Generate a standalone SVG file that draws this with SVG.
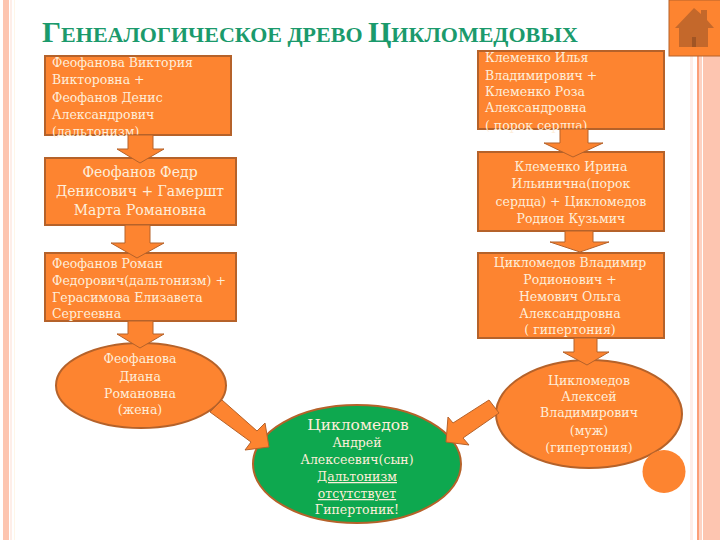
<svg xmlns="http://www.w3.org/2000/svg" width="720" height="540" viewBox="0 0 720 540">
<defs><style>
.sh{fill:#fd8430;stroke:#b5622a;stroke-width:2}
.ar{fill:#fd8430;stroke:#b5622a;stroke-width:1}
text{font-family:"DejaVu Serif","Liberation Serif",serif;fill:#feeeda;font-size:12.5px}
.c{text-anchor:middle}
.b{font-size:14px}
.t{font-family:"Liberation Serif",serif;font-size:22px;fill:#1b9a6c;font-weight:bold}
.u{text-decoration:underline}
</style></defs>
<rect width="720" height="540" fill="#fff"/>
<rect x="3" y="0" width="6" height="540" fill="#fdc5b0"/>
<rect x="10" y="0" width="2" height="540" fill="#feeee8"/>
<rect x="14" y="0" width="1" height="540" fill="#fff6e8"/>
<rect x="690" y="0" width="3" height="540" fill="#feeee8"/>
<rect x="697" y="0" width="2" height="540" fill="#fb9f78"/>
<rect x="699" y="0" width="3" height="540" fill="#fdd2c2"/>
<rect x="703" y="0" width="17" height="540" fill="#fdc5b0"/>
<g id="n1"><rect class="sh" x="45" y="56" width="186" height="79"/><text x="52" y="67">Феофанова Виктория</text><text x="52" y="84">Викторовна  +</text><text x="52" y="102">Феофанов Денис</text><text x="52" y="119">Александрович</text><text x="52" y="136">(дальтонизм)</text></g>
<g id="n2"><rect class="sh" x="45" y="158" width="191" height="67"/><text class="c b" x="140" y="177">Феофанов Федр</text><text class="c b" x="140" y="196">Денисович + Гамершт</text><text class="c b" x="140" y="215">Марта Романовна</text></g>
<g id="n3"><rect class="sh" x="45" y="253" width="191" height="68"/><text x="52" y="268">Феофанов Роман</text><text x="52" y="285">Федорович(дальтонизм) +</text><text x="52" y="302">Герасимова Елизавета</text><text x="52" y="318">Сергеевна</text></g>
<g id="n4"><ellipse class="sh" cx="141" cy="385.5" rx="85" ry="42.5"/><text class="c" x="140" y="363">Феофанова</text><text class="c" x="140" y="381">Диана</text><text class="c" x="140" y="398">Романовна</text><text class="c" x="140" y="414">(жена)</text></g>
<g id="n5"><rect class="sh" x="478" y="51" width="186" height="78"/><text x="485" y="62">Клеменко Илья</text><text x="485" y="80">Владимирович +</text><text x="485" y="96">Клеменко Роза</text><text x="485" y="112">Александровна</text><text x="485" y="130">(  порок сердца)</text></g>
<g id="n6"><rect class="sh" x="478" y="152" width="186" height="79"/><text class="c" x="571" y="171">Клеменко Ирина</text><text class="c" x="571" y="188">Ильинична(порок</text><text class="c" x="571" y="206">сердца) + Цикломедов</text><text class="c" x="571" y="223">Родион Кузьмич</text></g>
<g id="n7"><rect class="sh" x="478" y="253" width="186" height="85"/><text class="c" x="570" y="267">Цикломедов Владимир</text><text class="c" x="570" y="284">Родионович +</text><text class="c" x="570" y="301">Немович Ольга</text><text class="c" x="570" y="318">Александровна</text><text class="c" x="570" y="334">( гипертония)</text></g>
<g id="n8"><ellipse class="sh" cx="589" cy="414" rx="93" ry="54"/><text class="c" x="589" y="385">Цикломедов</text><text class="c" x="589" y="401">Алексей</text><text class="c" x="589" y="417">Владимирович</text><text class="c" x="589" y="435">(муж)</text><text class="c" x="589" y="452">(гипертония)</text></g>
<g id="n9"><ellipse cx="357" cy="464" rx="104" ry="59" fill="#0ea84f" stroke="#b5622a" stroke-width="2"/><text class="c" x="358" y="430" style="font-size:15.5px">Цикломедов</text><text class="c" x="357" y="447">Андрей</text><text class="c" x="357" y="464">Алексеевич(сын)</text><text class="c u" x="357" y="481">Дальтонизм</text><text class="c u" x="357" y="498">отсутствует</text><text class="c" x="357" y="514">Гипертоник!</text></g>
<g id="connectors">
<path class="ar" d="M128 135H153V149H164L140 163L117 149H128Z"/>
<path class="ar" d="M125 225H150V243H164L137 258L111 243H125Z"/>
<path class="ar" d="M128 321H153V334H164L140 348L117 334H128Z"/>
<path class="ar" d="M560 129H588V143H603L573 157L544 143H560Z"/>
<path class="ar" d="M565 231H593V242H609L580 252L550 242H565Z"/>
<path class="ar" d="M574 338H597V352H609L587 365L563 352H574Z"/>
<path class="ar" d="M222 400L257 431L265 423L269 447L245 450L251 442L210 412Z"/>
<path class="ar" d="M489 400L499 413L463 438L469 445L446 442L448 417L453 423Z"/>
</g>
<g id="dot"><circle cx="664" cy="471.5" r="21.5" fill="#fd8430"/></g>
<g id="home"><rect x="669" y="0" width="52" height="56" fill="#fd8430" stroke="#b5622a" stroke-width="1"/><path d="M675 28L694 8L701 14V10H707V20L714 28H708V47H679V28Z" fill="#b5622a" opacity=".8"/><rect x="692" y="37" width="4" height="10" fill="#8a4a20" opacity=".6"/></g>
<g id="title"><text class="t" x="42" y="42"><tspan font-size="30">Г</tspan>ЕНЕАЛОГИЧЕСКОЕ ДРЕВО</text><text class="t" x="368" y="42"><tspan font-size="30">Ц</tspan>ИКЛОМЕДОВЫХ</text></g>
</svg>
